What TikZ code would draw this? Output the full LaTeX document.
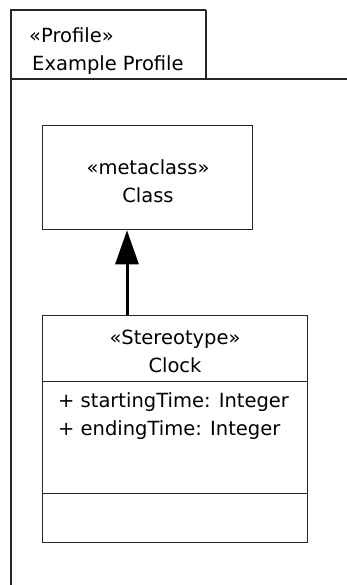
\documentclass[tikz,border=0pt]{standalone}
\usepackage{fontspec}
\setmainfont{DejaVu Sans}
\usetikzlibrary{arrows.meta}
\tikzset{
  umltext/.style={font=\fontsize{19.5}{28}\selectfont, inner sep=0pt, text=black},
  boxline/.style={draw=black!85, line width=1.3pt},
  compartment/.style={boxline, rectangle, inner sep=0pt, anchor=north west},
  extends/.style={draw=black, line width=3pt, -{Triangle[length=34pt, width=23pt]}}
}
\begin{document}
\begin{tikzpicture}[x=1pt, y=-1pt]
  \useasboundingbox (0,0) rectangle (347,585);
  \fill[white] (0,0) rectangle (347,585);

  % package tab and body outline
  \coordinate (tabTL) at (11,10);
  \coordinate (tabBR) at (206,79);
  \coordinate (bodyR) at (347,79);
  \coordinate (bodyB) at (11,585);
  \draw[boxline] (11,79) |- (tabTL -| tabBR);
  \draw[boxline] (tabTL) -- (11,79);
  \draw[draw=black!85, line width=2pt] (tabTL -| tabBR) -- (tabBR);
  \draw[boxline] (bodyB) -- (11,79) -- (bodyR);
  \node[umltext, anchor=west] (pkgstereo) at (29,35) {«Profile»};
  \node[umltext, anchor=west] (pkgname) at (32,65) {Example Profile};

  % metaclass
  \node[compartment, minimum width=210pt, minimum height=104pt] (cls) at (42,125) {};
  \node[umltext, align=center] (clslabel) at (148,181) {«metaclass»\\Class};

  % stereotype with its compartments
  \node[compartment, minimum width=265pt, minimum height=66pt] (clkhead) at (42,315) {};
  \node[compartment, minimum width=265pt, minimum height=112pt] (clkattr) at (42,381) {};
  \node[compartment, minimum width=265pt, minimum height=49pt] (clkops) at (42,493) {};
  \node[umltext, align=center] (clklabel) at (175,351) {«Stereotype»\\Clock};
  \node[umltext, align=left, anchor=north west] (attrs) at (58,392)
    {+ startingTime: Integer\\+ endingTime: Integer};

  % extension
  \draw[extends] (clkhead.north -| 127,0) -- (cls.south -| 127,0);
\end{tikzpicture}
\end{document}
